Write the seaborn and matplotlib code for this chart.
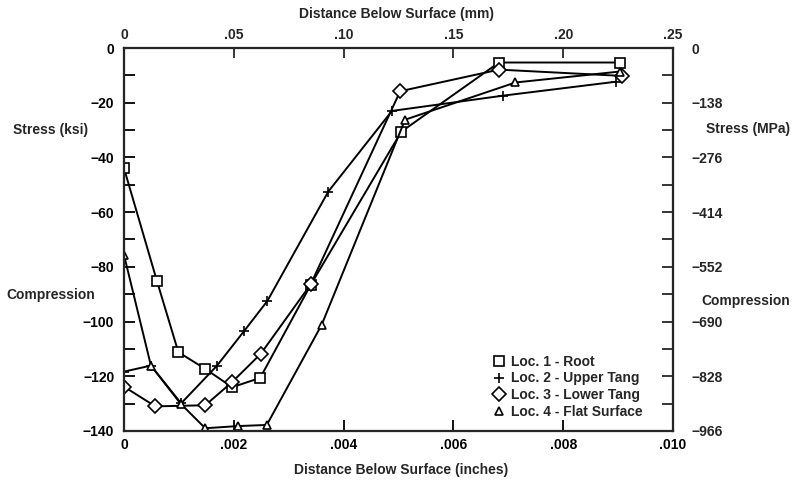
import numpy as np
import seaborn as sns
import matplotlib
matplotlib.use("Agg")
import matplotlib.pyplot as plt
from matplotlib.lines import Line2D
from matplotlib.ticker import MultipleLocator

# distance below surface (inches) and stress (ksi) for each location
root_x = [0.0, 0.00060, 0.00099, 0.00148, 0.00197, 0.00248, 0.00340, 0.00505, 0.00683, 0.00903]
root_y = [-44.0, -85.2, -111.2, -117.3, -124.0, -120.6, -86.6, -30.6, -5.3, -5.3]

upper_x = [0.0, 0.00049, 0.00104, 0.00169, 0.00219, 0.00261, 0.00372, 0.00488, 0.00691, 0.00897]
upper_y = [-118.3, -116.1, -129.9, -116.2, -103.4, -92.5, -52.5, -23.0, -17.4, -12.3]

lower_x = [0.0, 0.00057, 0.00148, 0.00197, 0.00249, 0.00340, 0.00503, 0.00683, 0.00907]
lower_y = [-123.8, -131.0, -130.6, -122.1, -111.8, -86.4, -15.8, -7.9, -10.2]

flat_x = [0.0, 0.00049, 0.00103, 0.00148, 0.00208, 0.00260, 0.00360, 0.00512, 0.00713, 0.00903]
flat_y = [-75.7, -116.1, -130.0, -139.0, -138.2, -137.8, -101.2, -26.2, -12.6, -8.6]

labels = ["Loc. 1 - Root", "Loc. 2 - Upper Tang", "Loc. 3 - Lower Tang", "Loc. 4 - Flat Surface"]
markers = ["s", "+", "D", "^"]
msizes = [6.5, 7, 7.5, 6]

bottom_ticks = [0, 0.002, 0.004, 0.006, 0.008, 0.010]
bottom_labels = ["0", ".002", ".004", ".006", ".008", ".010"]
top_ticks = [0, 0.05, 0.10, 0.15, 0.20, 0.25]
top_labels = ["0", ".05", ".10", ".15", ".20", ".25"]
ksi_ticks = [0, -20, -40, -60, -80, -100, -120, -140]
mpa_ticks = [0, -138, -276, -414, -552, -690, -828, -966]

sns.set_style("ticks")
plt.rcParams["font.family"] = ["Liberation Sans", "DejaVu Sans"]
plt.rcParams["font.weight"] = "bold"
plt.rcParams["font.size"] = 10

fig = plt.figure(figsize=(7.93, 4.83), dpi=100)
ax = fig.add_axes([0.1564, 0.1077, 0.6923, 0.7929])

series = [(root_x, root_y), (upper_x, upper_y), (lower_x, lower_y), (flat_x, flat_y)]
for (xs, ys), m, ms in zip(series, markers, msizes):
    sns.lineplot(x=xs, y=ys, ax=ax, color="black", linewidth=1.4, marker=m,
                 markersize=ms, markerfacecolor="white", markeredgecolor="black",
                 markeredgewidth=1.2, sort=False, estimator=None)

ax.set_xlim(0, 0.010)
ax.set_ylim(-140, 0)
ax.set_xticks(bottom_ticks)
ax.set_xticklabels(bottom_labels)
ax.set_yticks(ksi_ticks)
ax.set_yticklabels([str(t).replace("-", "\u2212") for t in ksi_ticks])
ax.yaxis.set_minor_locator(MultipleLocator(10))
ax.tick_params(axis="both", which="both", direction="in", length=8, width=1.3,
               labelsize=10, colors="black")
ax.tick_params(axis="y", pad=7)
ax.tick_params(axis="x", pad=5)
for sp in ax.spines.values():
    sp.set_linewidth(1.5)
    sp.set_visible(True)

# top axis in mm
axt = ax.twiny()
axt.set_xlim(0, 0.25)
axt.set_xticks(top_ticks)
axt.set_xticklabels(top_labels)
axt.tick_params(axis="x", direction="in", length=7, width=1.3, pad=4, labelsize=10)

# right axis in MPa
axr = ax.twinx()
axr.set_ylim(-966, 0)
axr.set_yticks(mpa_ticks)
axr.set_yticklabels([str(t).replace("-", "\u2212") for t in mpa_ticks])
axr.yaxis.set_minor_locator(MultipleLocator(69))
axr.tick_params(axis="y", which="both", direction="in", length=8, width=1.3,
                pad=13, labelsize=10)
for a in (axt, axr):
    for sp in a.spines.values():
        sp.set_linewidth(1.5)

fig.text(0.5, 0.972, "Distance Below Surface (mm)", ha="center", va="center",
         fontsize=10, fontweight="bold")
fig.text(0.506, 0.027, "Distance Below Surface (inches)", ha="center", va="center",
         fontsize=10, fontweight="bold")
fig.text(0.064, 0.731, "Stress (ksi)", ha="center", va="center", fontsize=10, fontweight="bold")
fig.text(0.064, 0.389, "Compression", ha="center", va="center", fontsize=10, fontweight="bold")
fig.text(0.943, 0.733, "Stress (MPa)", ha="center", va="center", fontsize=10, fontweight="bold")
fig.text(0.94, 0.376, "Compression", ha="center", va="center", fontsize=10, fontweight="bold")

handles = [Line2D([], [], linestyle="none", marker=m, markersize=ms, color="black",
                  markerfacecolor="white", markeredgewidth=1.2)
           for m, ms in zip(markers, msizes)]
ax.legend(handles, labels, loc="upper left", bbox_to_anchor=(0.645, 0.232),
          frameon=False, handletextpad=0.3, labelspacing=0.2, handlelength=1.2,
          prop={"weight": "bold", "size": 10})

fig.savefig("out.png", dpi=100)
